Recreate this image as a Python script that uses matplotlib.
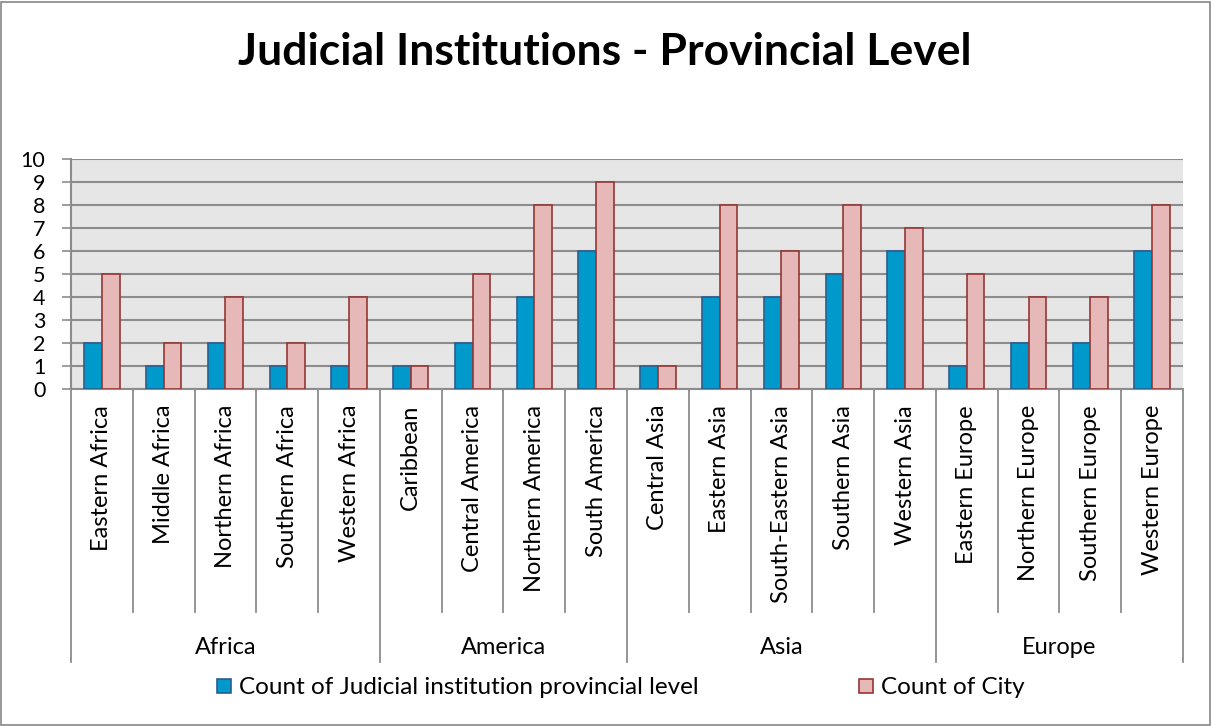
import matplotlib
matplotlib.use("Agg")
import matplotlib.pyplot as plt
import matplotlib.transforms as mtransforms
from matplotlib.patches import Rectangle
import numpy as np

plt.rcParams['font.family'] = ['Lato', 'DejaVu Sans']

groups = ["Africa", "America", "Asia", "Europe"]
group_sizes = [5, 4, 5, 4]
categories = ["Eastern Africa", "Middle Africa", "Northern Africa", "Southern Africa", "Western Africa",
              "Caribbean", "Central America", "Northern America", "South America",
              "Central Asia", "Eastern Asia", "South-Eastern Asia", "Southern Asia", "Western Asia",
              "Eastern Europe", "Northern Europe", "Southern Europe", "Western Europe"]
judicial = [2, 1, 2, 1, 1, 1, 2, 4, 6, 1, 4, 4, 5, 6, 1, 2, 2, 6]
city = [5, 2, 4, 2, 4, 1, 5, 8, 9, 1, 8, 6, 8, 7, 5, 4, 4, 8]
series_names = ["Count of Judicial institution provincial level", "Count of City"]
title = "Judicial Institutions - Provincial Level"

W, H = 1212, 726
fig = plt.figure(figsize=(W / 100, H / 100), dpi=100)
ax = fig.add_axes([71 / W, 1 - 389 / H, (1183 - 71) / W, (389 - 159) / H])
ax.set_facecolor('#e6e6e6')

x = np.arange(len(categories))
bw = 1 / 3.5
b1 = ax.bar(x - bw / 2, judicial, bw, color='#0099cc', edgecolor='#2c5d8f', linewidth=1.2,
            label=series_names[0], zorder=3)
b2 = ax.bar(x + bw / 2, city, bw, color='#e6b9b8', edgecolor='#953735', linewidth=1.2,
            label=series_names[1], zorder=3)

ax.set_xlim(-0.5, len(categories) - 0.5)
ax.set_ylim(0, 10)
ax.set_yticks(range(0, 11))
ax.yaxis.grid(True, color='#8c8c8c', linewidth=1.5, zorder=0)
ax.set_axisbelow(True)
ax.set_xticks([])
ax.tick_params(axis='y', direction='out', length=6.5, width=1.2, color='#8c8c8c',
               labelsize=15.5, pad=12)
for s in ['top', 'right']:
    ax.spines[s].set_visible(False)
for s in ['left', 'bottom']:
    ax.spines[s].set_color('#8c8c8c')
    ax.spines[s].set_linewidth(1.5)

trans = mtransforms.blended_transform_factory(ax.transData, ax.transAxes)
cat_bottom = (389 - 612) / 230
grp_bottom = (389 - 662) / 230

# category separators and labels
boundaries = np.cumsum([0] + group_sizes) - 0.5
for i in range(len(categories) + 1):
    xb = i - 0.5
    yb = grp_bottom if xb in boundaries else cat_bottom
    ax.plot([xb, xb], [0, yb], color='#8c8c8c', linewidth=1.3, transform=trans, clip_on=False)
for i, c in enumerate(categories):
    ax.text(i, (389 - 405) / 230, c, rotation=90, ha='center', va='top', fontsize=17,
            transform=trans)
start = 0
for g, n in zip(groups, group_sizes):
    ax.text(start + (n - 1) / 2, (389 - 647) / 230, g, ha='center', va='center', fontsize=17,
            transform=trans)
    start += n

fig.text(605 / W, 1 - 52 / H, title, ha='center', va='center', fontsize=32, fontweight='bold')

fig.legend(handles=[b1, b2], loc='center', bbox_to_anchor=(621 / W, 1 - 688 / H), ncol=2,
           frameon=False, fontsize=17.5, handlelength=0.55, handleheight=0.55, handletextpad=0.35,
           columnspacing=6.6)

fig.patches.append(Rectangle((1 / W, 1 / H), 1 - 3 / W, 1 - 3 / H, transform=fig.transFigure,
                             fill=False, edgecolor='#868686', linewidth=1.2))

fig.savefig('out.png', dpi=100)
